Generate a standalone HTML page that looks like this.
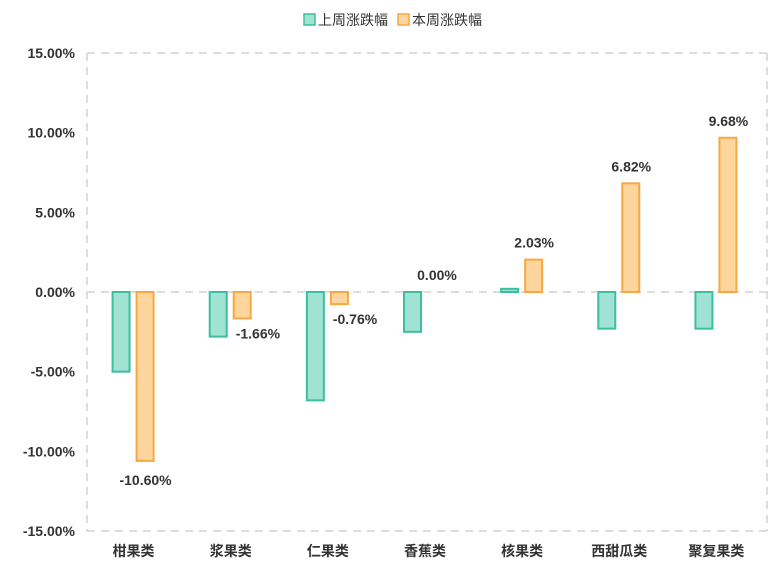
<!DOCTYPE html>
<html><head><meta charset="utf-8"><style>
body{margin:0;background:#fff;font-family:"Liberation Sans","Noto Sans CJK SC",sans-serif}
</style></head><body>
<svg id="c" width="783" height="571" xmlns="http://www.w3.org/2000/svg" font-family="Liberation Sans, Noto Sans CJK SC, sans-serif">
<g>
<rect x="304" y="14" width="11" height="11" fill="#a0e2d3" stroke="#3cbf9f" stroke-width="1.5"/>
<text x="318" y="25" font-size="14" fill="#333">上周涨跌幅</text>
<rect x="398" y="14" width="11" height="11" fill="#ffd59e" stroke="#f7a840" stroke-width="1.5"/>
<text x="412" y="25" font-size="14" fill="#333">本周涨跌幅</text>
</g>
<g id="g"></g>
</svg>
<script>
const categories=["柑果类","浆果类","仁果类","香蕉类","核果类","西甜瓜类","聚复果类"];
const lastWeek=[-5.0,-2.8,-6.8,-2.5,0.2,-2.3,-2.3];
const thisWeek=[-10.60,-1.66,-0.76,0.00,2.03,6.82,9.68];
const yTicks=[15,10,5,0,-5,-10,-15];
const L=87,R=767,T=53,B=531,ymax=15,ymin=-15;
const y=v=>T+(ymax-v)/(ymax-ymin)*(B-T);
const bw=(R-L)/categories.length;
const cx=i=>L+bw*(i+0.5)-2;
const g=document.getElementById('g');
const NS="http://www.w3.org/2000/svg";
function mk(t,a){const e=document.createElementNS(NS,t);for(const k in a)e.setAttribute(k,a[k]);g.appendChild(e);return e;}
let e;
e=mk('line',{x1:L,y1:T,x2:R,y2:T,stroke:'#ddd','stroke-width':2,'stroke-dasharray':'8,6'});

e=mk('line',{x1:L,y1:B,x2:R,y2:B,stroke:'#ddd','stroke-width':2,'stroke-dasharray':'8,6'});

e=mk('line',{x1:L,y1:T,x2:L,y2:B,stroke:'#ddd','stroke-width':2,'stroke-dasharray':'8,6'});

e=mk('line',{x1:R,y1:T,x2:R,y2:B,stroke:'#ddd','stroke-width':2,'stroke-dasharray':'8,6'});

e=mk('line',{x1:L,y1:y(0),x2:R,y2:y(0),stroke:'#ddd','stroke-width':2,'stroke-dasharray':'8,6'});

yTicks.forEach(v=>{const t=mk('text',{x:75,y:y(v)+5,'text-anchor':'end','font-size':14,'font-weight':'bold',fill:'#333'});t.textContent=v.toFixed(2)+'%';
});
categories.forEach((c,i)=>{
const t=mk('text',{x:cx(i),y:556,'text-anchor':'middle','font-size':14,'font-weight':'bold',fill:'#333'});t.textContent=c;

const a=lastWeek[i],b=thisWeek[i];
const r1=mk('rect',{x:cx(i)-21,y:Math.min(y(a),y(0)),width:17,height:Math.max(Math.abs(y(a)-y(0)),0.5),fill:'#a0e2d3',stroke:'#3cbf9f','stroke-width':2});

if(b!==0){const r2=mk('rect',{x:cx(i)+3,y:Math.min(y(b),y(0)),width:17,height:Math.abs(y(b)-y(0)),fill:'#ffd59e',stroke:'#f7a840','stroke-width':2});
}
let lx=cx(i)+12,ly,anchor='middle';
if(b>=0){ly=y(b)-12;}
else if(b<-5){ly=y(b)+24;}
else{ly=y(b)+20;lx=cx(i)+5;anchor='start';}
const l=mk('text',{x:lx,y:ly,'text-anchor':anchor,'font-size':14,'font-weight':'bold',fill:'#333'});l.textContent=b.toFixed(2)+'%';

});
</script>
</body></html>
